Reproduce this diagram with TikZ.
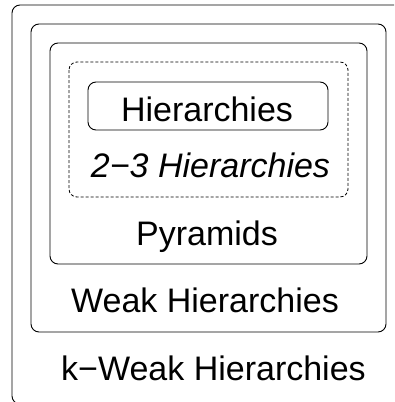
\documentclass[tikz,border=0pt]{standalone}
\usepackage{fontspec}
\setmainfont{Liberation Sans}
\begin{document}
\begin{tikzpicture}[x=1pt,y=-1pt,
  frame/.style={draw=black, line width=0.9pt, rounded corners=8pt},
  dframe/.style={draw=black, line width=0.8pt, rounded corners=8pt, dash pattern=on 3pt off 2pt},
  lbl/.style={anchor=base, inner sep=0pt, font=\fontsize{34}{40}\selectfont},
  ilbl/.style={lbl, font=\fontsize{34}{40}\selectfont\itshape}]
\useasboundingbox (0,0) rectangle (394,402);
\clip (0,0) rectangle (394,402);
\fill[white] (0,0) rectangle (394,402);
\draw[frame] (12,5) rectangle (404,404);
\draw[frame] (31,24) rectangle (386,332);
\draw[frame] (50,43) rectangle (367,264);
\draw[dframe] (69,62) rectangle (348,197);
\draw[frame] (88,82) rectangle (328,130);
\node[lbl] (h) at (207,121) {Hierarchies};
\node[ilbl] (h23) at (210.5,177) {2−3 Hierarchies};
\node[lbl] (p) at (207,245) {Pyramids};
\node[lbl] (w) at (205,312) {Weak Hierarchies};
\node[lbl] (kw) at (213.5,380) {k−Weak Hierarchies};
\end{tikzpicture}
\end{document}
